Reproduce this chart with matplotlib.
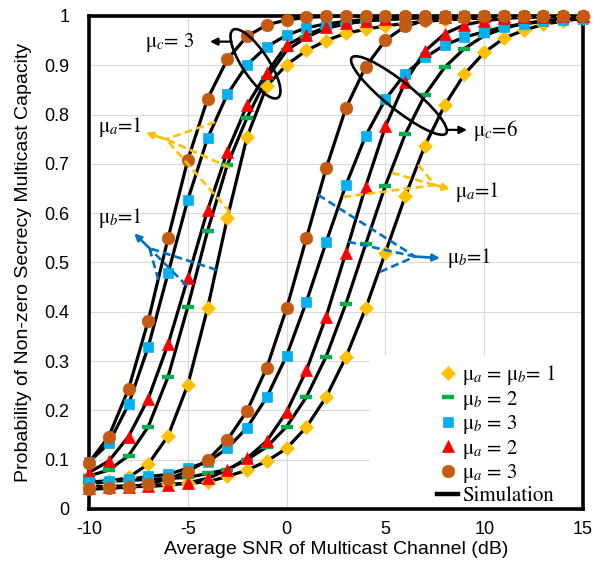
import matplotlib
matplotlib.use('Agg')
import matplotlib.pyplot as plt
from matplotlib.lines import Line2D
from matplotlib.patches import Ellipse, Rectangle

plt.rcParams['font.family'] = ['Liberation Sans', 'DejaVu Sans']
plt.rcParams['mathtext.fontset'] = 'stix'
plt.rcParams['axes.unicode_minus'] = False

snr = list(range(-10, 16))

# mu_c = 3 (left family of curves)
c3_base = [0.050, 0.056, 0.064, 0.091, 0.148, 0.252, 0.407, 0.590, 0.755, 0.858, 0.901, 0.930, 0.950,
           0.965, 0.973, 0.980, 0.985, 0.989, 0.992, 0.994, 0.996, 0.997, 0.998, 0.999, 0.999, 1.000]
c3_mub2 = [0.067, 0.079, 0.108, 0.167, 0.268, 0.410, 0.564, 0.698, 0.794, 0.874, 0.930, 0.957, 0.975,
           0.984, 0.990, 0.993, 0.995, 0.997, 0.998, 0.999, 0.999, 1.000, 1.000, 1.000, 1.000, 1.000]
c3_mub3 = [0.095, 0.133, 0.212, 0.329, 0.478, 0.627, 0.752, 0.841, 0.901, 0.938, 0.961, 0.976, 0.984,
           0.989, 0.993, 0.995, 0.997, 0.998, 0.999, 0.999, 1.000, 1.000, 1.000, 1.000, 1.000, 1.000]
c3_mua2 = [0.074, 0.097, 0.147, 0.224, 0.334, 0.468, 0.606, 0.725, 0.819, 0.885, 0.941, 0.962, 0.977,
           0.985, 0.990, 0.993, 0.995, 0.997, 0.998, 0.999, 1.000, 1.000, 1.000, 1.000, 1.000, 1.000]
c3_mua3 = [0.094, 0.147, 0.243, 0.382, 0.549, 0.708, 0.832, 0.912, 0.959, 0.982, 0.992, 0.997, 0.999,
           1.000, 1.000, 1.000, 1.000, 1.000, 1.000, 1.000, 1.000, 1.000, 1.000, 1.000, 1.000, 1.000]

# mu_c = 6 (right family of curves)
c6_base = [0.045, 0.046, 0.047, 0.048, 0.050, 0.052, 0.055, 0.066, 0.079, 0.097, 0.123, 0.166, 0.227,
           0.308, 0.407, 0.520, 0.634, 0.737, 0.819, 0.882, 0.926, 0.955, 0.971, 0.983, 0.990, 0.995]
c6_mub2 = [0.055, 0.056, 0.058, 0.060, 0.062, 0.064, 0.072, 0.080, 0.100, 0.126, 0.167, 0.227, 0.309,
           0.416, 0.537, 0.656, 0.760, 0.840, 0.896, 0.934, 0.960, 0.975, 0.985, 0.990, 0.994, 0.996]
c6_mub3 = [0.055, 0.057, 0.060, 0.066, 0.070, 0.083, 0.095, 0.123, 0.165, 0.227, 0.311, 0.420, 0.541,
           0.657, 0.757, 0.831, 0.883, 0.916, 0.941, 0.957, 0.968, 0.978, 0.984, 0.989, 0.992, 0.994]
c6_mua2 = [0.043, 0.044, 0.045, 0.046, 0.048, 0.053, 0.062, 0.079, 0.103, 0.138, 0.197, 0.281, 0.390,
           0.520, 0.654, 0.776, 0.866, 0.929, 0.964, 0.982, 0.990, 0.995, 0.997, 0.998, 0.999, 1.000]
c6_mua3 = [0.040, 0.042, 0.044, 0.051, 0.061, 0.076, 0.099, 0.140, 0.199, 0.287, 0.407, 0.549, 0.691,
           0.813, 0.897, 0.951, 0.979, 0.991, 0.996, 0.998, 1.000, 1.000, 1.000, 1.000, 1.000, 1.000]

labels = ['μ$_a$ = μ$_b$= 1', 'μ$_b$ = 2', 'μ$_b$ = 3', 'μ$_a$ = 2', 'μ$_a$ = 3']
markers = ['D', '_', 's', '^', 'o']
sizes = [7.5, 9, 7.5, 8.5, 9]
colors = ['#FFC000', '#00B050', '#00B0F0', '#FF0000', '#C55A11']

series_c3 = [c3_base, c3_mub2, c3_mub3, c3_mua2, c3_mua3]
series_c6 = [c6_base, c6_mub2, c6_mub3, c6_mua2, c6_mua3]

fig = plt.figure(figsize=(5.96, 5.67), dpi=100)
ax = fig.add_axes([0.1493, 0.1023, 0.8289, 0.8695])

# simulation curves
for s in series_c3 + series_c6:
    ax.plot(snr, s, color='black', lw=2.3, solid_joinstyle='round', zorder=2)

# analytical points
for group in (series_c3, series_c6):
    for s, m, ms, c in zip(group, markers, sizes, colors):
        if m == '_':
            ax.plot(snr, s, ls='none', marker=m, ms=ms, mew=3.2, color=c, zorder=3, clip_on=False)
        else:
            ax.plot(snr, s, ls='none', marker=m, ms=ms, mfc=c, mec=c, mew=0.5, zorder=3, clip_on=False)

ax.set_xlim(-10, 15)
ax.set_ylim(0, 1)
ax.set_xticks(range(-10, 16, 5))
yt = [i / 10 for i in range(11)]
ax.set_yticks(yt)
ax.set_yticklabels(['%g' % v for v in yt])
ax.tick_params(length=0, labelsize=13)
ax.tick_params(axis='x', pad=9)
ax.tick_params(axis='y', pad=14)
ax.grid(True, color='#d9d9d9', lw=0.8)
ax.set_axisbelow(True)
for sp in ax.spines.values():
    sp.set_linewidth(2.6)
    sp.set_color('black')

ax.set_xlabel('Average SNR of Multicast Channel (dB)', fontsize=14, labelpad=2)
ax.set_ylabel('Probability of Non-zero Secrecy Multicast Capacity', fontsize=14, labelpad=9)

# white area behind the legend
ax.add_patch(Rectangle((0.569, 0), 0.431, 0.312, transform=ax.transAxes,
                       facecolor='white', edgecolor='none', zorder=1))

handles = [Line2D([], [], ls='none', marker=m, ms=ms, color=c, mfc=c, mec=c,
                  mew=(3.2 if m == '_' else 0.5))
           for m, ms, c in zip(markers, sizes, colors)]
handles.append(Line2D([], [], color='black', lw=3.2))
leg = ax.legend(handles, labels + ['Simulation'], loc='lower right', bbox_to_anchor=(0.975, -0.024),
                frameon=False, prop={'family': 'STIXGeneral', 'size': 15},
                handlelength=1.0, handletextpad=0.2, labelspacing=0.07, borderaxespad=0.3)

ann_font = {'family': 'STIXGeneral', 'size': 15}
arrow_k = dict(arrowstyle='-|>', color='black', lw=1.6, mutation_scale=11, shrinkA=0, shrinkB=0)

# mu_c ellipses
ax.add_patch(Ellipse((0.337, 0.903), 0.165, 0.053, angle=-56.5, transform=ax.transAxes,
                     fill=False, ec='black', lw=1.9, zorder=4))
ax.add_patch(Ellipse((0.6275, 0.8387), 0.245, 0.055, angle=-38.8, transform=ax.transAxes,
                     fill=False, ec='black', lw=1.9, zorder=4))
ax.annotate('', xy=(-3.88, 0.948), xytext=(-2.78, 0.948), arrowprops=arrow_k, zorder=4)
ax.text(-5.9, 0.947, 'μ$_c$= 3', ha='center', va='center', fontdict=ann_font, zorder=4)
ax.annotate('', xy=(9.13, 0.769), xytext=(8.15, 0.769), arrowprops=arrow_k, zorder=4)
ax.text(10.55, 0.767, 'μ$_c$=6', ha='center', va='center', fontdict=ann_font, zorder=4)


def pointer(hub, ends, tip, text, text_xy, color):
    for e in ends:
        ax.plot([e[0], hub[0]], [e[1], hub[1]], ls=(0, (3, 1.6)), color=color, lw=1.9, zorder=4)
    ax.annotate('', xy=tip, xytext=hub,
                arrowprops=dict(arrowstyle='-|>', color=color, lw=1.9, mutation_scale=10,
                                shrinkA=0, shrinkB=0), zorder=4)
    ax.text(text_xy[0], text_xy[1], text, ha='center', va='center', fontdict=ann_font, zorder=4)


yel = '#FFC000'
blu = '#0070C0'
pointer((-6.10, 0.750), [(-3.62, 0.785), (-2.86, 0.692), (-2.86, 0.602)], (-7.12, 0.763),
        'μ$_a$=1', (-8.43, 0.775), yel)
pointer((-6.94, 0.529), [(-3.54, 0.485), (-5.06, 0.453), (-6.49, 0.465)], (-7.71, 0.559),
        'μ$_b$=1', (-8.43, 0.590), blu)
pointer((7.51, 0.657), [(6.66, 0.698), (5.32, 0.682), (2.87, 0.633)], (8.27, 0.649),
        'μ$_a$=1', (9.64, 0.643), yel)
pointer((6.50, 0.512), [(1.60, 0.637), (3.12, 0.542), (4.73, 0.481)], (7.76, 0.509),
        'μ$_b$=1', (9.23, 0.509), blu)

fig.savefig('out.png', dpi=100)
